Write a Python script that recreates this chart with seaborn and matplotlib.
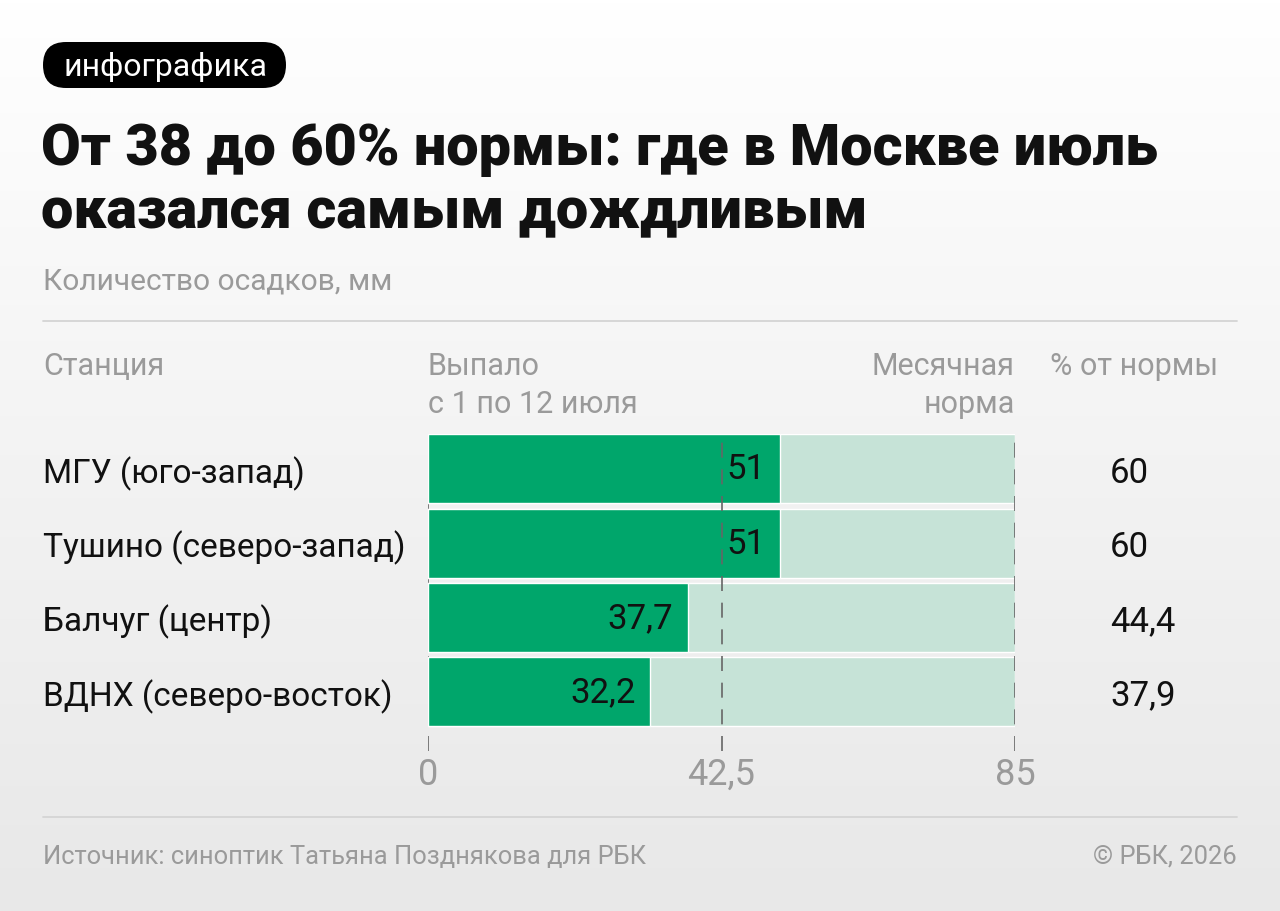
import numpy as np
import pandas as pd
import matplotlib
matplotlib.use("Agg")
import matplotlib.pyplot as plt
from matplotlib.patches import FancyBboxPatch
import seaborn as sns

# данные
stations = ["МГУ (юго-запад)", "Тушино (северо-запад)", "Балчуг (центр)", "ВДНХ (северо-восток)"]
fallen = [51, 51, 37.7, 32.2]
norm = [85, 85, 85, 85]
pct_of_norm = [60, 60, 44.4, 37.9]
tick_values = [0, 42.5, 85]

title_lines = ["От 38 до 60% нормы: где в Москве июль", "оказался самым дождливым"]
subtitle = "Количество осадков, мм"
source = "Источник: синоптик Татьяна Позднякова для РБК"
copyright_txt = "© РБК, 2026"

GREEN = "#00a66b"
LIGHT = "#c6e3d7"
GRAY = "#9a9a9a"
DARK = "#111111"


def fmt(v):
    return f"{v:g}".replace(".", ",")


df = pd.DataFrame({"station": stations, "fallen": fallen, "norm": norm})

sns.set_theme(style="white")
plt.rcParams["font.family"] = ["Roboto", "DejaVu Sans"]

W, H = 1280, 912
fig = plt.figure(figsize=(W / 100, H / 100), dpi=100)


def fx(x):
    return x / W


def fy(y):
    return 1 - y / H


# фон с вертикальным градиентом (оси в пикселях)
bg = fig.add_axes([0, 0, 1, 1], zorder=-10)
grad = np.linspace(0, 1, 256).reshape(-1, 1)
cmap_bg = matplotlib.colors.LinearSegmentedColormap.from_list(
    "bg", ["#ffffff", "#f3f3f3", "#e8e8e8"])
bg.imshow(grad, aspect="auto", cmap=cmap_bg, extent=[0, W, H, 0])
bg.set_xlim(0, W)
bg.set_ylim(H, 0)
bg.axis("off")

# плашка "инфографика"
bg.add_patch(FancyBboxPatch((43, 43), 286 - 43, 89 - 43,
                            boxstyle="round,pad=0,rounding_size=23",
                            facecolor="black", edgecolor="none"))
fig.text(fx(165), fy(67), "инфографика", color="white", fontsize=23,
         ha="center", va="center")

fig.text(fx(41), fy(165), title_lines[0], fontsize=41.5, fontweight="heavy", color=DARK,
         ha="left", va="baseline")
fig.text(fx(41), fy(228), title_lines[1], fontsize=41.5, fontweight="heavy", color=DARK,
         ha="left", va="baseline")
fig.text(fx(43), fy(290), subtitle, fontsize=21.5, color=GRAY, ha="left", va="baseline")

# разделители
for yy in (322, 818):
    fig.add_artist(plt.Line2D([fx(43), fx(1237)], [fy(yy), fy(yy)],
                              transform=fig.transFigure, color="#d4d4d4", lw=1.3))

# шапка таблицы
HS = 22
fig.text(fx(43), fy(375), "Станция", fontsize=HS, color=GRAY, ha="left", va="baseline")
fig.text(fx(428), fy(375), "Выпало", fontsize=HS, color=GRAY, ha="left", va="baseline")
fig.text(fx(428), fy(413), "с 1 по 12 июля", fontsize=HS, color=GRAY, ha="left", va="baseline")
fig.text(fx(1015), fy(375), "Месячная", fontsize=HS, color=GRAY, ha="right", va="baseline")
fig.text(fx(1015), fy(413), "норма", fontsize=HS, color=GRAY, ha="right", va="baseline")
fig.text(fx(1218), fy(375), "% от нормы", fontsize=HS, color=GRAY, ha="right", va="baseline")

# основной график
ax = fig.add_axes([fx(428), fy(752), fx(1015 - 428), fy(435) - fy(752)])
ax.set_facecolor("none")
sns.barplot(data=df, x="norm", y="station", orient="h", color=LIGHT,
            width=0.93, saturation=1, ax=ax, zorder=1)
sns.barplot(data=df, x="fallen", y="station", orient="h", color=GREEN,
            width=0.93, saturation=1, ax=ax, zorder=2)
ax.set_xlim(0, 85)
ax.set_ylim(3.8, -0.47)
ax.set_xlabel("")
ax.set_ylabel("")
ax.set_xticks([])
ax.set_yticks([])
sns.despine(ax=ax, left=True, bottom=True)

for t in tick_values:
    ax.axvline(t, color="#666666", lw=1.2, dashes=(9, 7), zorder=3 if t > 0 else 0)
    ax.annotate(fmt(t), xy=(t, 0), xycoords=("data", "axes fraction"),
                xytext=(0, -33), textcoords="offset pixels", ha="center", va="baseline",
                fontsize=26, color=GRAY, annotation_clip=False)

for i, v in enumerate(fallen):
    ax.annotate(fmt(v), xy=(v, i), xytext=(-15, 0), textcoords="offset pixels",
                ha="right", va="center", fontsize=25, color=DARK, zorder=4)

# подписи строк и % от нормы
for i, (name, p) in enumerate(zip(stations, pct_of_norm)):
    ax.annotate(name, xy=(0, i), xycoords="data", xytext=(43 - 428, 0),
                textcoords="offset pixels", ha="left", va="center_baseline",
                fontsize=24, color=DARK, annotation_clip=False)
    ax.annotate(fmt(p), xy=(85, i), xycoords="data", xytext=(1110 - 1015, 0),
                textcoords="offset pixels", ha="left", va="center_baseline",
                fontsize=25, color=DARK, annotation_clip=False)

fig.text(fx(43), fy(864), source, fontsize=18.4, color=GRAY, ha="left", va="baseline")
fig.text(fx(1237), fy(864), copyright_txt, fontsize=18.4, color=GRAY, ha="right", va="baseline")

fig.savefig("out.png", dpi=100)
